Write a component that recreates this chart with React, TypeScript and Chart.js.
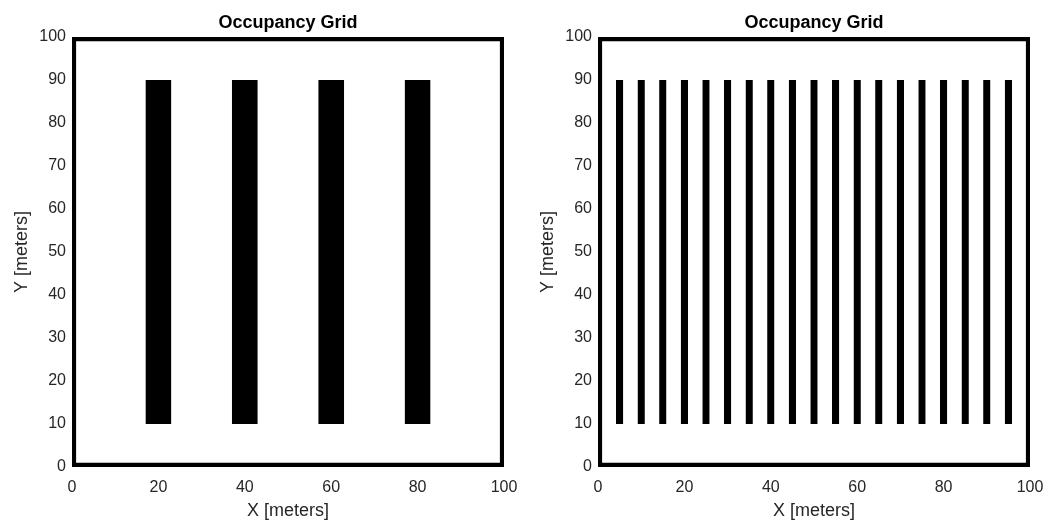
import React, { useEffect, useRef } from "react";
import { Chart, registerables } from "chart.js";

Chart.register(...registerables);

// Map extent and boundary walls (metres)
const mapMin = 0;
const mapMax = 100;
const wallThickness = 1;

// Obstacle rows span the same vertical band in both maps
const obstacleBottom = 10;
const obstacleTop = 90;

// Left map: four wide obstacles
const wideObstacleCenters = [20, 40, 60, 80];
const wideObstacleWidth = 6;

// Right map: nineteen narrow obstacles
const narrowObstacleCenters = [5, 10, 15, 20, 25, 30, 35, 40, 45, 50, 55, 60, 65, 70, 75, 80, 85, 90, 95];
const narrowObstacleWidth = 1.7;

// Axis tick labels
const xTickValues = [0, 20, 40, 60, 80, 100];
const yTickValues = [0, 10, 20, 30, 40, 50, 60, 70, 80, 90, 100];

const FONT = "'Liberation Sans', Arial, Helvetica, sans-serif";
const TEXT = "#262626";

type Rect = { x0: number; x1: number; y0: number; y1: number };

function wallRects(): Rect[] {
  return [
    { x0: mapMin, x1: mapMax, y0: mapMin, y1: mapMin + wallThickness },
    { x0: mapMin, x1: mapMax, y0: mapMax - wallThickness, y1: mapMax },
    { x0: mapMin, x1: mapMin + wallThickness, y0: mapMin, y1: mapMax },
    { x0: mapMax - wallThickness, x1: mapMax, y0: mapMin, y1: mapMax },
  ];
}

function obstacleRects(centers: number[], width: number): Rect[] {
  return centers.map((c) => ({
    x0: c - width / 2,
    x1: c + width / 2,
    y0: obstacleBottom,
    y1: obstacleTop,
  }));
}

// Each occupied rectangle: a flat top edge filled down to its bottom value
function rectDataset(r: Rect) {
  return {
    data: [
      { x: r.x0, y: r.y1 },
      { x: r.x1, y: r.y1 },
    ],
    borderWidth: 0,
    borderColor: "#000000",
    backgroundColor: "#000000",
    pointRadius: 0,
    fill: { value: r.y0 },
    tension: 0,
  };
}

function OccupancyChart({ centers, width }: { centers: number[]; width: number }) {
  const ref = useRef<HTMLCanvasElement | null>(null);

  useEffect(() => {
    if (!ref.current) return;
    const rects = [...wallRects(), ...obstacleRects(centers, width)];
    const chart = new Chart(ref.current, {
      type: "line",
      data: { datasets: rects.map(rectDataset) as any },
      options: {
        animation: false,
        responsive: false,
        devicePixelRatio: 1,
        layout: { padding: { left: 0, right: 26, top: 0, bottom: 0 } },
        plugins: {
          legend: { display: false },
          tooltip: { enabled: false },
          title: { display: false },
        },
        scales: {
          x: {
            type: "linear",
            min: mapMin,
            max: mapMax,
            afterBuildTicks: (s: any) => {
              s.ticks = xTickValues.map((v) => ({ value: v }));
            },
            afterFit: (s: any) => {
              s.height = 56;
            },
            grid: { display: false, drawTicks: false },
            border: { display: false },
            ticks: {
              color: TEXT,
              font: { family: FONT, size: 16 },
              padding: 11,
              maxRotation: 0,
              autoSkip: false,
            },
            title: {
              display: true,
              text: "X [meters]",
              color: TEXT,
              font: { family: FONT, size: 18, lineHeight: 1.2 },
              padding: { top: 0, bottom: 1 },
            },
          },
          // Top axis carries only the heading, centred over the plot area
          top: {
            type: "linear",
            position: "top",
            min: mapMin,
            max: mapMax,
            afterFit: (s: any) => {
              s.height = 37;
            },
            grid: { display: false, drawTicks: false },
            border: { display: false },
            ticks: { display: false },
            title: {
              display: true,
              text: "Occupancy Grid",
              color: "#000000",
              font: { family: FONT, size: 18, weight: "bold", lineHeight: 1.2 },
              padding: { top: 12, bottom: 0 },
            },
          },
          y: {
            type: "linear",
            min: mapMin,
            max: mapMax,
            afterBuildTicks: (s: any) => {
              s.ticks = yTickValues.map((v) => ({ value: v }));
            },
            afterFit: (s: any) => {
              s.width = 72;
            },
            grid: { display: false, drawTicks: false },
            border: { display: false },
            ticks: {
              color: TEXT,
              font: { family: FONT, size: 16 },
              padding: 6,
              autoSkip: false,
            },
            title: {
              display: true,
              text: "Y [meters]",
              color: TEXT,
              font: { family: FONT, size: 18, lineHeight: 1.2 },
              padding: { top: 11, bottom: 0 },
            },
          },
        },
      },
    });
    return () => chart.destroy();
  }, [centers, width]);

  return <canvas ref={ref} width={530} height={523} style={{ display: "block" }} />;
}

export default function App() {
  return (
    <div
      style={{
        position: "fixed",
        left: 0,
        top: 0,
        width: 1060,
        height: 523,
        background: "#ffffff",
        overflow: "hidden",
      }}
    >
      <div style={{ position: "absolute", left: 0, top: 0 }}>
        <OccupancyChart centers={wideObstacleCenters} width={wideObstacleWidth} />
      </div>
      <div style={{ position: "absolute", left: 526, top: 0 }}>
        <OccupancyChart centers={narrowObstacleCenters} width={narrowObstacleWidth} />
      </div>
    </div>
  );
}
